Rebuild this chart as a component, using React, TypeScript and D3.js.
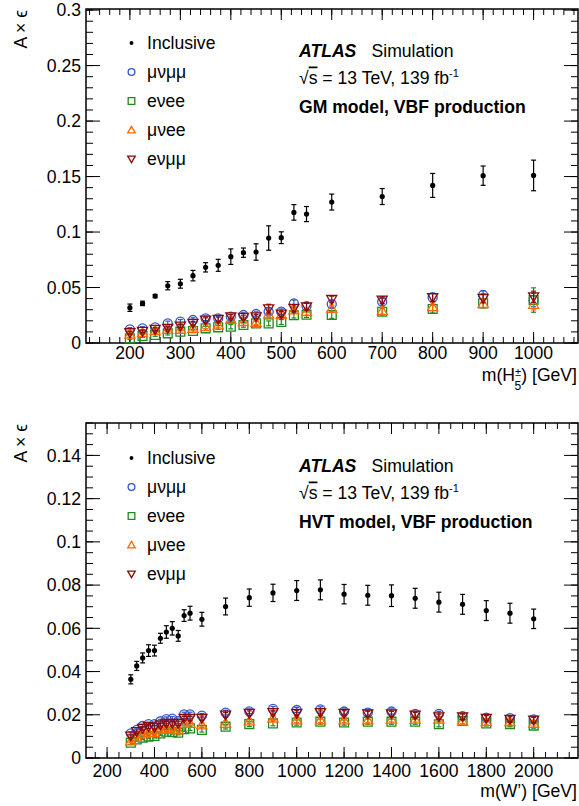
import React from 'react';
import * as d3 from 'd3';

const FONT = "'Liberation Sans', Arial, Helvetica, sans-serif";
const FS = 17.6;

// ---------- Top panel (GM model) ----------
const gmMass = [200, 225, 250, 275, 300, 325, 350, 375, 400, 425, 450, 475, 500, 525, 550, 600, 700, 800, 900, 1000];
const gmInclusive = [0.0318, 0.0357, 0.0423, 0.0516, 0.0534, 0.0607, 0.0682, 0.070, 0.0778, 0.0814, 0.082, 0.0946, 0.0949, 0.1177, 0.1162, 0.127, 0.132, 0.142, 0.1508, 0.151];
const gmInclusiveErr = [0.0033, 0.002, 0.0015, 0.0037, 0.004, 0.0047, 0.0042, 0.0054, 0.007, 0.0042, 0.0074, 0.011, 0.0053, 0.007, 0.0068, 0.0072, 0.0072, 0.0108, 0.0087, 0.0138];
const gmMuNuMuMu = [0.0123, 0.0132, 0.0141, 0.0177, 0.0192, 0.0207, 0.0222, 0.0222, 0.0237, 0.0252, 0.0261, 0.0282, 0.0282, 0.0357, 0.0333, 0.0351, 0.0372, 0.041, 0.0432, 0.0387];
const gmMuNuMuMuErr = [0.0015, 0.0015, 0.0015, 0.002, 0.002, 0.002, 0.002, 0.002, 0.002, 0.002, 0.002, 0.0025, 0.0025, 0.003, 0.003, 0.003, 0.003, 0.004, 0.004, 0.006];
const gmENuEE = [0.0042, 0.0063, 0.0072, 0.0087, 0.0102, 0.0108, 0.0132, 0.0141, 0.0147, 0.0162, 0.0177, 0.0177, 0.0189, 0.025, 0.0255, 0.0252, 0.0282, 0.0306, 0.0357, 0.0387];
const gmENuEEErr = [0.001, 0.0012, 0.0012, 0.0015, 0.0015, 0.0015, 0.0018, 0.0018, 0.002, 0.002, 0.002, 0.0022, 0.0022, 0.0025, 0.0025, 0.003, 0.003, 0.0035, 0.004, 0.011];
const gmMuNuEE = [0.008, 0.0093, 0.0111, 0.0123, 0.0123, 0.0132, 0.0147, 0.0162, 0.0213, 0.0192, 0.0186, 0.0261, 0.0258, 0.0297, 0.0282, 0.0312, 0.0291, 0.0327, 0.0357, 0.0348];
const gmMuNuEEErr = [0.0012, 0.0012, 0.0015, 0.0015, 0.0015, 0.0018, 0.0018, 0.002, 0.002, 0.002, 0.002, 0.003, 0.0025, 0.003, 0.003, 0.003, 0.003, 0.0035, 0.004, 0.005];
const gmENuMuMu = [0.0093, 0.0105, 0.0123, 0.0132, 0.0153, 0.0177, 0.0207, 0.0213, 0.0237, 0.0231, 0.0237, 0.0309, 0.0261, 0.0312, 0.0327, 0.0393, 0.0387, 0.041, 0.0402, 0.0417];
const gmENuMuMuErr = [0.0012, 0.0012, 0.0015, 0.0015, 0.0015, 0.0018, 0.002, 0.002, 0.002, 0.002, 0.002, 0.004, 0.0025, 0.003, 0.003, 0.003, 0.003, 0.0035, 0.004, 0.005];

// ---------- Bottom panel (HVT model) ----------
const hvtMass = [300, 325, 350, 375, 400, 425, 450, 475, 500, 525, 550, 600, 700, 800, 900, 1000, 1100, 1200, 1300, 1400, 1500, 1600, 1700, 1800, 1900, 2000];
const hvtInclusive = [0.0364, 0.0426, 0.0463, 0.0497, 0.0497, 0.0554, 0.0583, 0.060, 0.0565, 0.0659, 0.067, 0.0642, 0.0701, 0.0742, 0.0764, 0.0775, 0.0778, 0.0758, 0.0753, 0.0751, 0.0739, 0.0721, 0.0711, 0.0682, 0.067, 0.0644];
const hvtInclusiveErr = [0.0021, 0.0021, 0.0023, 0.0027, 0.0025, 0.0023, 0.0029, 0.0031, 0.0025, 0.0027, 0.0032, 0.0032, 0.0039, 0.004, 0.004, 0.0046, 0.0046, 0.0045, 0.0046, 0.005, 0.0046, 0.0046, 0.0046, 0.0046, 0.0046, 0.0045];
const hvtMuNuMuMu = [0.0114, 0.013, 0.0148, 0.0157, 0.0157, 0.017, 0.018, 0.0182, 0.017, 0.0202, 0.0202, 0.0196, 0.021, 0.0216, 0.0227, 0.0222, 0.0225, 0.0215, 0.021, 0.0215, 0.0204, 0.0204, 0.0194, 0.0187, 0.0184, 0.0179];
const hvtENuEE = [0.0071, 0.0086, 0.0094, 0.0099, 0.0102, 0.0114, 0.0122, 0.012, 0.0117, 0.0133, 0.0137, 0.013, 0.0145, 0.0157, 0.016, 0.0164, 0.0168, 0.0164, 0.0168, 0.0168, 0.0168, 0.0156, 0.0171, 0.016, 0.0157, 0.015];
const hvtMuNuEE = [0.0079, 0.0096, 0.0111, 0.0117, 0.0117, 0.0133, 0.0137, 0.0133, 0.013, 0.016, 0.016, 0.0153, 0.016, 0.0171, 0.0184, 0.0176, 0.0176, 0.0176, 0.0176, 0.0179, 0.0179, 0.0179, 0.0171, 0.0168, 0.0168, 0.016];
const hvtENuMuMu = [0.0102, 0.0122, 0.0137, 0.0145, 0.0142, 0.0153, 0.016, 0.016, 0.016, 0.0184, 0.0184, 0.0184, 0.0199, 0.0207, 0.021, 0.0207, 0.021, 0.0207, 0.0204, 0.0204, 0.0199, 0.0191, 0.0191, 0.0184, 0.0179, 0.0176];
const hvtChannelErr = [0.0008, 0.0008, 0.0008, 0.0009, 0.0009, 0.0009, 0.001, 0.001, 0.001, 0.001, 0.001, 0.001, 0.0011, 0.0011, 0.0011, 0.0012, 0.0012, 0.0012, 0.0012, 0.0012, 0.0012, 0.0012, 0.0012, 0.0012, 0.0012, 0.0012];

// ---------- Labels ----------
const legendLabels = ['Inclusive', 'μνμμ', 'eνee', 'μνee', 'eνμμ'];
const gmXTicks = [200, 300, 400, 500, 600, 700, 800, 900, 1000];
const gmYTicks = [0, 0.05, 0.1, 0.15, 0.2, 0.25, 0.3];
const hvtXTicks = [200, 400, 600, 800, 1000, 1200, 1400, 1600, 1800, 2000];
const hvtYTicks = [0, 0.02, 0.04, 0.06, 0.08, 0.1, 0.12, 0.14];

type MarkerKind = 'dot' | 'circle' | 'square' | 'tri' | 'tridown';
const markerKinds: MarkerKind[] = ['dot', 'circle', 'square', 'tri', 'tridown'];
const markerColors = ['#000000', '#2f55c8', '#1f8a1f', '#ff6a00', '#8a0a0a'];

function Marker({ kind, x, y, color, scale = 1 }: { kind: MarkerKind; x: number; y: number; color: string; scale?: number }) {
  if (kind === 'dot') {
    return <circle cx={x} cy={y} r={2.6 * scale} fill={color} />;
  }
  let type = d3.symbolCircle;
  let size = 64;
  let rot = 0;
  let dy = 0;
  if (kind === 'square') { type = d3.symbolSquare; size = 78; }
  if (kind === 'tri') { type = d3.symbolTriangle; size = 44; dy = 1; }
  if (kind === 'tridown') { type = d3.symbolTriangle; size = 44; rot = 180; dy = -1; }
  const path = d3.symbol().type(type).size(size * scale * scale)() || '';
  return (
    <path d={path} transform={`translate(${x},${y + dy * scale}) rotate(${rot})`} fill="none" stroke={color} strokeWidth={1.3} />
  );
}

type Series = { values: number[]; errs: number[] };

function Panel(props: {
  top: number; bottom: number; left: number; right: number;
  xDomain: [number, number]; yDomain: [number, number];
  xTicks: number[]; xMinorStep: number; yTicks: number[]; yMinorStep: number;
  mass: number[]; series: Series[];
  legendTop: number; textBase: number; modelText: string;
  xLabel: React.ReactNode; xTickBase: number;
}) {
  const { top, bottom, left, right } = props;
  const x = d3.scaleLinear().domain(props.xDomain).range([left, right]);
  const y = d3.scaleLinear().domain(props.yDomain).range([bottom, top]);
  const xMinor = d3.range(Math.ceil(props.xDomain[0] / props.xMinorStep) * props.xMinorStep, props.xDomain[1], props.xMinorStep);
  const yMinor = d3.range(0, props.yDomain[1] + 1e-9, props.yMinorStep);
  const fmt = (v: number) => String(+v.toFixed(3));
  const xMajLen = 11, xMinLen = 6, yMajLen = 14, yMinLen = 7;
  return (
    <g>
      {/* ticks */}
      {xMinor.map((v, i) => (
        <g key={'xm' + i}>
          <line x1={x(v)} x2={x(v)} y1={bottom} y2={bottom - xMinLen} stroke="#000" strokeWidth={1} />
          <line x1={x(v)} x2={x(v)} y1={top} y2={top + xMinLen} stroke="#000" strokeWidth={1} />
        </g>
      ))}
      {props.xTicks.map((v, i) => (
        <g key={'xM' + i}>
          <line x1={x(v)} x2={x(v)} y1={bottom} y2={bottom - xMajLen} stroke="#000" strokeWidth={1} />
          <line x1={x(v)} x2={x(v)} y1={top} y2={top + xMajLen} stroke="#000" strokeWidth={1} />
          <text x={x(v)} y={props.xTickBase} textAnchor="middle" fontFamily={FONT} fontSize={FS}>{v}</text>
        </g>
      ))}
      {yMinor.map((v, i) => (
        <g key={'ym' + i}>
          <line x1={left} x2={left + yMinLen} y1={y(v)} y2={y(v)} stroke="#000" strokeWidth={1} />
          <line x1={right} x2={right - yMinLen} y1={y(v)} y2={y(v)} stroke="#000" strokeWidth={1} />
        </g>
      ))}
      {props.yTicks.map((v, i) => (
        <g key={'yM' + i}>
          <line x1={left} x2={left + yMajLen} y1={y(v)} y2={y(v)} stroke="#000" strokeWidth={1} />
          <line x1={right} x2={right - yMajLen} y1={y(v)} y2={y(v)} stroke="#000" strokeWidth={1} />
          <text x={left - 5} y={y(v)} dy="0.36em" textAnchor="end" fontFamily={FONT} fontSize={FS}>{fmt(v)}</text>
        </g>
      ))}
      <rect x={left} y={top} width={right - left} height={bottom - top} fill="none" stroke="#000" strokeWidth={1.5} />

      {/* y label */}
      <text transform={`translate(27,${top + 1}) rotate(-90)`} textAnchor="end" fontFamily={FONT} fontSize={FS}>A × ϵ</text>
      {props.xLabel}

      {/* data */}
      {props.series.map((s, si) => (
        <g key={'s' + si}>
          {props.mass.map((m, i) => {
            const cx = x(m);
            const cy = y(s.values[i]);
            const e = s.errs[i];
            const y1 = y(s.values[i] + e);
            const y2 = y(s.values[i] - e);
            const col = si === 0 ? '#000' : markerColors[si];
            return (
              <g key={i}>
                <line x1={cx} x2={cx} y1={y1} y2={y2} stroke={col} strokeWidth={1.2} />
                <line x1={cx - 2.5} x2={cx + 2.5} y1={y1} y2={y1} stroke={col} strokeWidth={1.2} />
                <line x1={cx - 2.5} x2={cx + 2.5} y1={y2} y2={y2} stroke={col} strokeWidth={1.2} />
                <Marker kind={markerKinds[si]} x={cx} y={cy} color={markerColors[si]} />
              </g>
            );
          })}
        </g>
      ))}

      {/* legend */}
      {legendLabels.map((lab, i) => {
        const cy = props.legendTop + i * 29;
        return (
          <g key={'l' + i}>
            <Marker kind={markerKinds[i]} x={131.5} y={cy} color={markerColors[i]} scale={0.75} />
            <text x={147} y={cy + 6} fontFamily={FONT} fontSize={FS}>{lab}</text>
          </g>
        );
      })}

      {/* ATLAS text */}
      <text x={299} y={props.textBase} fontFamily={FONT} fontSize={FS} fontWeight="bold" fontStyle="italic">ATLAS</text>
      <text x={371.5} y={props.textBase} fontFamily={FONT} fontSize={FS}>Simulation</text>
      <text x={299} y={props.textBase + 26.5} fontFamily={FONT} fontSize={FS}>
        <tspan>√</tspan><tspan style={{ textDecoration: 'overline' }}>s</tspan><tspan> = 13 TeV, 139 fb</tspan>
        <tspan fontSize={11} dy={-7}>-1</tspan>
      </text>
      <text x={299} y={props.textBase + 55.5} fontFamily={FONT} fontSize={FS} fontWeight="bold">{props.modelText}</text>
    </g>
  );
}

export default function App() {
  const gmSeries: Series[] = [
    { values: gmInclusive, errs: gmInclusiveErr },
    { values: gmMuNuMuMu, errs: gmMuNuMuMuErr },
    { values: gmENuEE, errs: gmENuEEErr },
    { values: gmMuNuEE, errs: gmMuNuEEErr },
    { values: gmENuMuMu, errs: gmENuMuMuErr },
  ];
  const hvtSeries: Series[] = [
    { values: hvtInclusive, errs: hvtInclusiveErr },
    { values: hvtMuNuMuMu, errs: hvtChannelErr },
    { values: hvtENuEE, errs: hvtChannelErr },
    { values: hvtMuNuEE, errs: hvtChannelErr },
    { values: hvtENuMuMu, errs: hvtChannelErr },
  ];
  return (
    <svg width={579} height={806} style={{ position: 'absolute', left: 0, top: 0, background: '#fff' }}>
      <rect x={0} y={0} width={579} height={806} fill="#fff" />
      <Panel
        top={9} bottom={343} left={86} right={578}
        xDomain={[113, 1088]} yDomain={[0, 0.301]}
        xTicks={gmXTicks} xMinorStep={20} yTicks={gmYTicks} yMinorStep={0.01}
        mass={gmMass} series={gmSeries}
        legendTop={43} textBase={57} modelText="GM model, VBF production"
        xTickBase={359}
        xLabel={
          <text x={577} y={381} textAnchor="end" fontFamily={FONT} fontSize={FS}>
            m(H<tspan fontSize={11} dy={-5}>±</tspan><tspan fontSize={12} dx={-6.5} dy={14}>5</tspan><tspan dy={-9}>) [GeV]</tspan>
          </text>
        }
      />
      <Panel
        top={423} bottom={758} left={86} right={578}
        xDomain={[111, 2187]} yDomain={[0, 0.155]}
        xTicks={hvtXTicks} xMinorStep={50} yTicks={hvtYTicks} yMinorStep={0.005}
        mass={hvtMass} series={hvtSeries}
        legendTop={458} textBase={472} modelText="HVT model, VBF production"
        xTickBase={777}
        xLabel={
          <text x={577} y={797} textAnchor="end" fontFamily={FONT} fontSize={FS}>m(W’) [GeV]</text>
        }
      />
    </svg>
  );
}
